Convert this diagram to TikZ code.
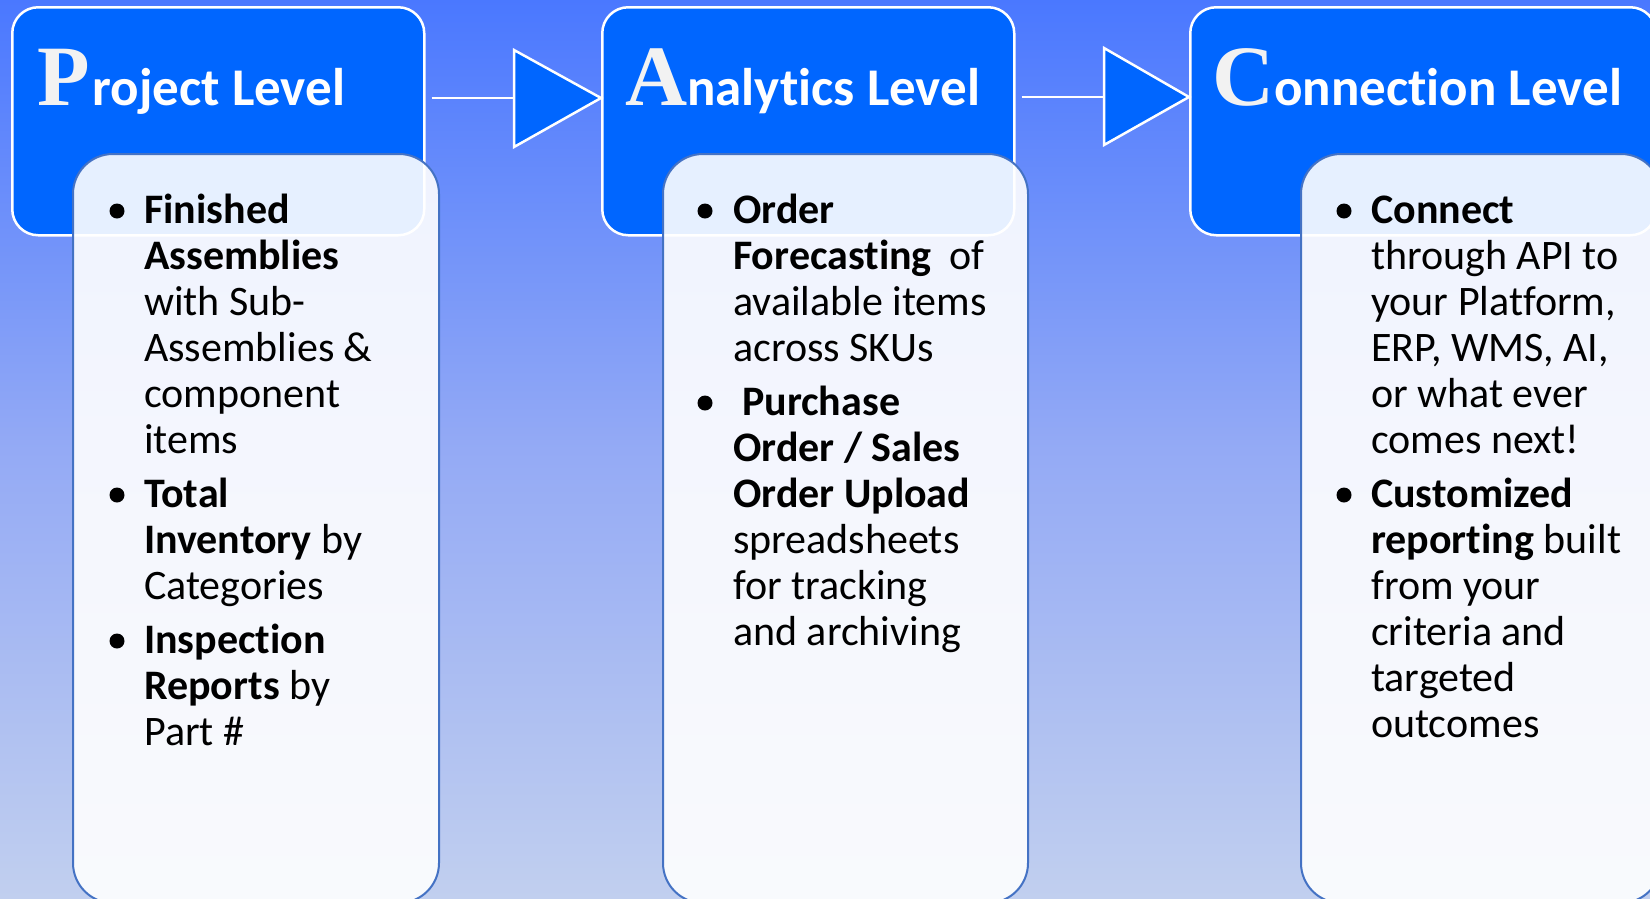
\documentclass[tikz,border=0pt]{standalone}
\usepackage{fontspec}
\setmainfont[Ligatures=CommonOff]{Carlito}
\newfontfamily\serifinit{Liberation Serif}
\definecolor{bgtop}{RGB}{74,120,255}
\definecolor{bgmid}{RGB}{148,170,245}
\definecolor{bgbot}{RGB}{193,207,239}
\definecolor{boxblue}{RGB}{0,102,255}
\definecolor{lowedge}{RGB}{68,114,196}
\definecolor{initgray}{RGB}{242,242,242}
\newcommand{\titlefnt}{\fontsize{53pt}{60pt}\selectfont\bfseries}
\newcommand{\initfnt}{\serifinit\fontsize{86pt}{90pt}\selectfont\bfseries\color{initgray}}
\newcommand{\fst}{\rule{0pt}{35pt}}
\begin{document}
\begin{tikzpicture}[x=1pt,y=-1pt,
  topbox/.style={draw=white, line width=2.5pt, fill=boxblue, rounded corners=26pt, inner sep=0pt, anchor=north west},
  lowbox/.style={draw=lowedge, line width=2pt, fill=white, fill opacity=0.9, rounded corners=40pt, inner sep=0pt, anchor=north west},
  tri/.style={draw=white, line width=2.5pt, fill=boxblue, line join=miter},
  conn/.style={draw=white, line width=2.5pt},
  title/.style={anchor=base west, inner sep=0pt, text=white},
  itemtext/.style={anchor=north west, inner sep=0pt, align=left, text=black, font=\fontsize{42pt}{46pt}\selectfont},
  bul/.style={circle, fill=black, minimum size=15pt, inner sep=0pt}
]
\useasboundingbox (0,0) rectangle (1650,898);
\clip (0,0) rectangle (1650,898);
% background
\shade[top color=bgtop, bottom color=bgbot, middle color=bgmid] (0,0) rectangle (1650,898);

% top boxes
\node[topbox, minimum width=412pt, minimum height=228pt] (pt) at (11,6) {};
\node[topbox, minimum width=412pt, minimum height=228pt] (at) at (601,6) {};
\node[topbox, minimum width=466pt, minimum height=228pt] (ct) at (1189,6) {};

% connectors and triangles
\coordinate (t1b) at (514,98);
\coordinate (t2b) at (1104,97);
\draw[conn, shorten <=6pt] (pt.east |- t1b) -- (t1b);
\draw[conn, shorten <=6pt] (at.east |- t2b) -- (t2b);
\draw[tri] (514,50) -- (601,98) -- (514,147) -- cycle;
\draw[tri] (1104,48) -- (1189,97) -- (1104,145) -- cycle;

% lower boxes
\node[lowbox, minimum width=366pt, minimum height=749pt] (pl) at (72,153) {};
\node[lowbox, minimum width=365pt, minimum height=749pt] (al) at (662,153) {};
\node[lowbox, minimum width=360pt, minimum height=749pt] (cl) at (1300,153) {};

% titles
\node[title] (ptit) at (37,105) {{\initfnt P}\kern3pt{\titlefnt roject Level}};
\node[title] (atit) at (625,105) {{\initfnt A}{\titlefnt nalytics Level}};
\node[title] (ctit) at (1212,105) {{\initfnt C}{\titlefnt onnection Level}};

% Project items
\node[bul] (pb1) at (117,211) {};
\node[itemtext] (pi1) at (144,188) {\fst\textbf{Finished}\\\textbf{Assemblies}\\with Sub-\\Assemblies \&\\component\\items};
\node[bul] (pb2) at (117,495) {};
\node[itemtext] (pi2) at (144,472) {\fst\textbf{Total}\\\textbf{Inventory} by\\Categories};
\node[bul] (pb3) at (117,641) {};
\node[itemtext] (pi3) at (144,618) {\fst\textbf{Inspection}\\\textbf{Reports} by\\Part \#};

% Analytics items
\node[bul] (ab1) at (705,211) {};
\node[itemtext] (ai1) at (733,188) {\fst\textbf{Order}\\\textbf{Forecasting}\hspace{18pt}of\\available items\\across SKUs};
\node[bul] (ab2) at (705,403) {};
\node[itemtext] (ai2) at (733,380) {\fst\hspace{9pt}\textbf{Purchase}\\\textbf{Order / Sales}\\\textbf{Order Upload}\\spreadsheets\\for tracking\\and archiving};

% Connection items
\node[bul] (cb1) at (1344,211) {};
\node[itemtext] (ci1) at (1371,188) {\fst\textbf{Connect}\\through API to\\your Platform,\\ERP, WMS, AI,\\or what ever\\comes next!};
\node[bul] (cb2) at (1344,495) {};
\node[itemtext] (ci2) at (1371,472) {\fst\textbf{Customized}\\\textbf{reporting} built\\from your\\criteria and\\targeted\\outcomes};
\end{tikzpicture}
\end{document}
